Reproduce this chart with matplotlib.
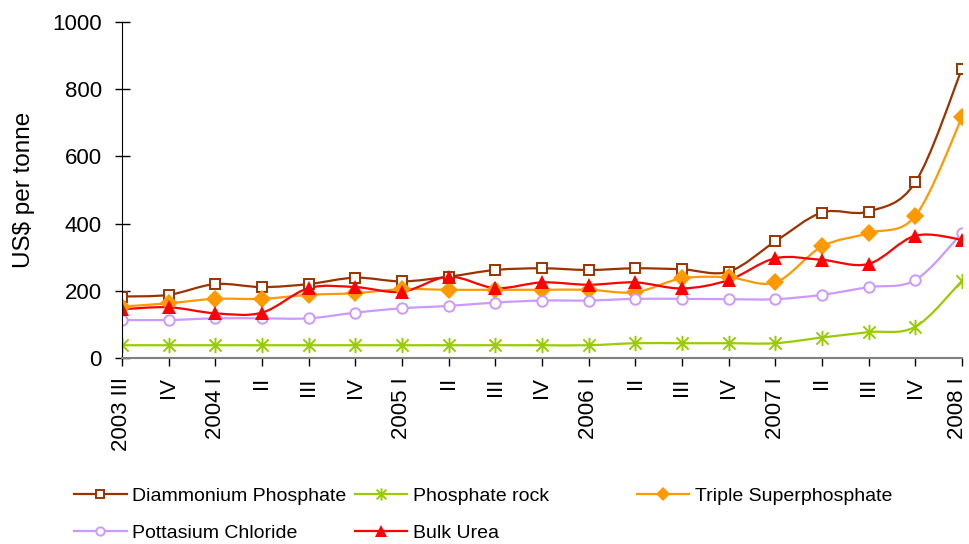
import matplotlib
matplotlib.use("Agg")
import matplotlib.pyplot as plt
import matplotlib.transforms as mtransforms
from matplotlib.path import Path
from matplotlib.patches import PathPatch
from matplotlib.lines import Line2D

plt.rcParams["font.family"] = ["Liberation Sans", "DejaVu Sans"]

quarters = ["2003 III", "IV", "2004 I", "II", "III", "IV", "2005 I", "II", "III", "IV",
            "2006 I", "II", "III", "IV", "2007 I", "II", "III", "IV", "2008 I"]

diammonium = [183, 188, 220, 211, 220, 239, 228, 242, 262, 267,
              262, 267, 264, 257, 347, 433, 436, 523, 861]
rock = [38, 38, 38, 38, 38, 38, 38, 38, 38, 38,
        38, 44, 44, 44, 44, 61, 77, 93, 230]
triple = [153, 163, 176, 176, 188, 193, 205, 203, 203, 203,
          203, 196, 237, 240, 225, 332, 372, 423, 716]
potassium = [113, 113, 118, 118, 118, 135, 148, 155, 165, 171,
             171, 176, 176, 175, 175, 188, 211, 232, 372]
urea = [145, 151, 133, 135, 208, 211, 197, 242, 208, 225,
        218, 225, 207, 232, 297, 292, 280, 364, 352]

# excel-like star marker: X with a vertical bar
star = Path([(-1, -1), (1, 1), (-1, 1), (1, -1), (0, -1.25), (0, 1.25)],
            [Path.MOVETO, Path.LINETO, Path.MOVETO, Path.LINETO, Path.MOVETO, Path.LINETO])

series = [
    ("Diammonium Phosphate", diammonium, "#993300", dict(marker="s", ms=7.5, mfc="white", mew=1.4)),
    ("Phosphate rock", rock, "#99CC00", dict(marker=star, ms=11, mew=1.4)),
    ("Triple Superphosphate", triple, "#FF9900", dict(marker="D", ms=9, mew=0)),
    ("Pottasium Chloride", potassium, "#CC99FF", dict(marker="o", ms=7.5, mfc="white", mew=1.4)),
    ("Bulk Urea", urea, "#FF0000", dict(marker="^", ms=10, mew=0)),
]


def smooth_path(xs, ys):
    # cubic bezier through the points, like excel's smoothed line
    pts = list(zip(xs, ys))
    verts = [pts[0]]
    codes = [Path.MOVETO]
    n = len(pts)
    for i in range(n - 1):
        p0 = pts[max(i - 1, 0)]
        p1 = pts[i]
        p2 = pts[i + 1]
        p3 = pts[min(i + 2, n - 1)]
        c1 = (p1[0] + (p2[0] - p0[0]) / 6, p1[1] + (p2[1] - p0[1]) / 6)
        c2 = (p2[0] - (p3[0] - p1[0]) / 6, p2[1] - (p3[1] - p1[1]) / 6)
        verts += [c1, c2, p2]
        codes += [Path.CURVE4] * 3
    return Path(verts, codes)


fig = plt.figure(figsize=(9.7, 5.44), dpi=100)
ax = fig.add_axes([122 / 970, 186 / 544, 840 / 970, 336 / 544])

x = list(range(len(quarters)))
handles = {}
for name, vals, color, mk in series:
    ax.add_patch(PathPatch(smooth_path(x, vals), fill=False, edgecolor=color, lw=1.6))
    ax.plot(x, vals, linestyle="none", color=color, mec=color, **mk)
    small = dict(mk)
    small["ms"] = mk["ms"] * 0.8
    handles[name] = Line2D([], [], color=color, mec=color, lw=1.6, **small)

ax.set_xlim(0, len(quarters) - 1)
ax.set_ylim(0, 1000)
ax.set_yticks([0, 200, 400, 600, 800, 1000])
ax.set_xticks(x)
ax.set_xticklabels(quarters, rotation=90)
ax.tick_params(axis="y", direction="inout", length=10.8, width=1, pad=9, labelsize=16)
ax.tick_params(axis="x", direction="out", length=5.8, width=1, pad=8, labelsize=16)
ax.spines["top"].set_visible(False)
ax.spines["right"].set_visible(False)
ax.spines["bottom"].set_color("#808080")
ax.spines["bottom"].set_linewidth(1.5)
ax.set_ylabel("US$ per tonne", fontsize=17.5)
ax.yaxis.set_label_coords(-0.1036, 0.5)

# nudge the last quarter label a little left so it stays inside the figure
last = ax.get_xticklabels()[-1]
last.set_transform(last.get_transform() +
                   mtransforms.ScaledTranslation(-3 / 72, 0, fig.dpi_scale_trans))

cols = [
    (74, ["Diammonium Phosphate", "Pottasium Chloride"]),
    (355, ["Phosphate rock", "Bulk Urea"]),
    (637, ["Triple Superphosphate"]),
]
for px, names in cols:
    leg = fig.legend([handles[n] for n in names], names, loc="upper left",
                     bbox_to_anchor=(px / 970, 57 / 544), bbox_transform=fig.transFigure,
                     frameon=False, fontsize=14, borderpad=0, borderaxespad=0,
                     handlelength=2.7, handletextpad=0.3, labelspacing=1.0)

fig.savefig("out.png", dpi=100)
